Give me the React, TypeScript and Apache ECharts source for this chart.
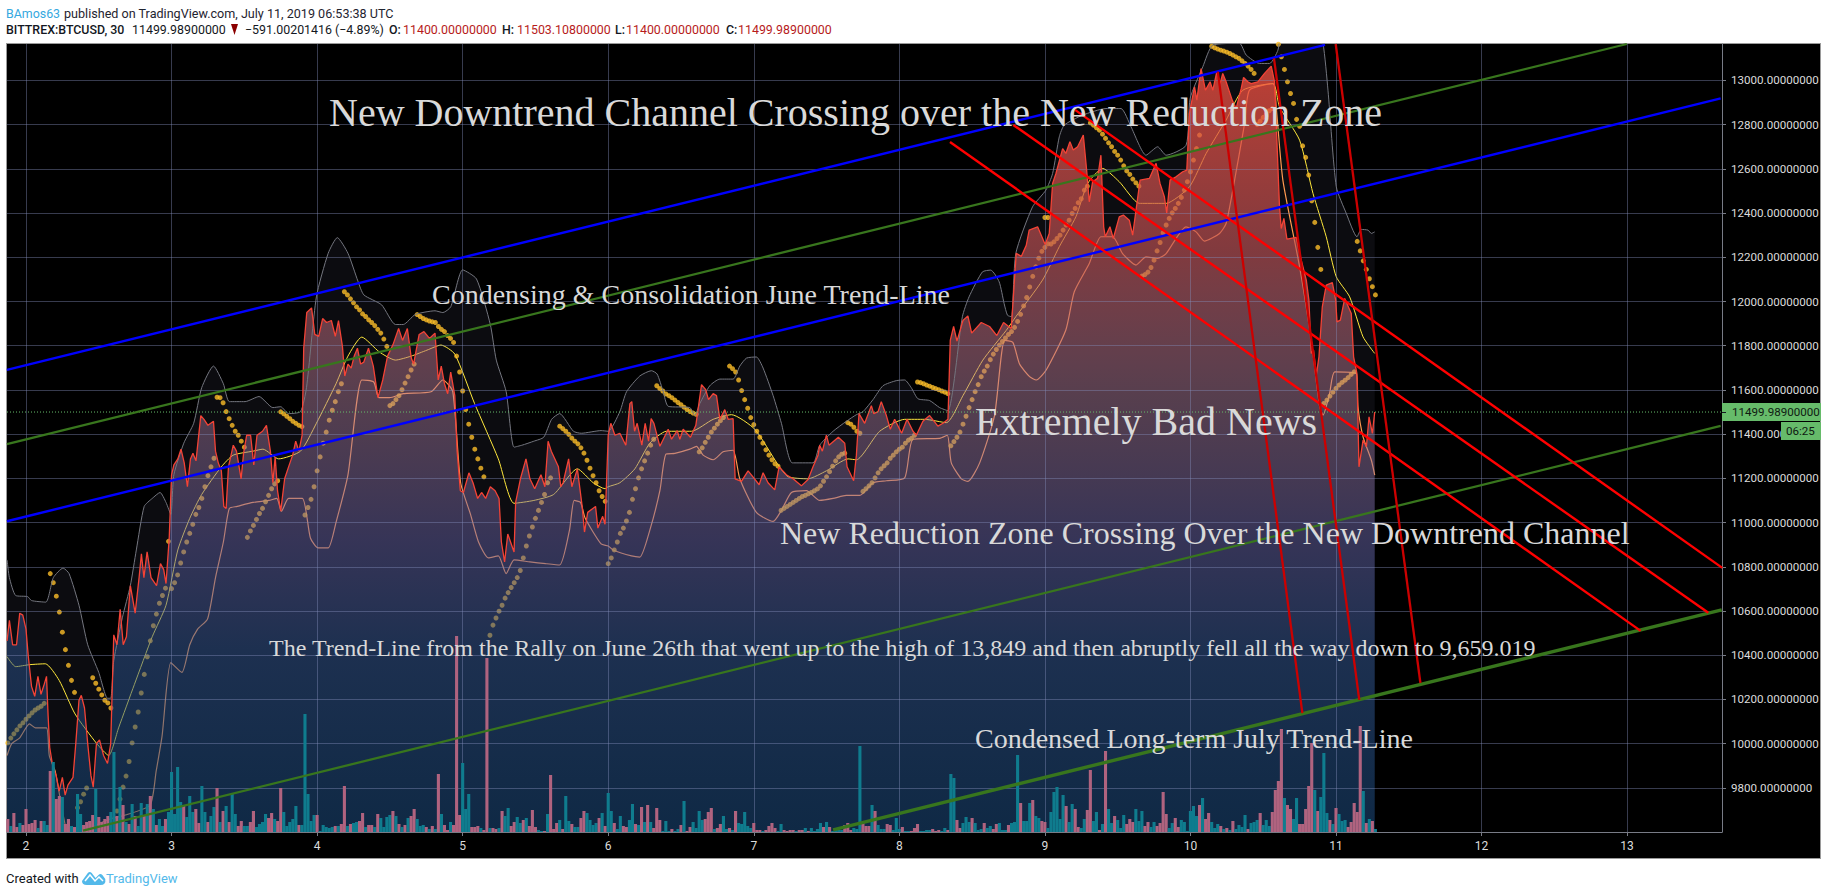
import React, { useEffect, useRef } from "react";
import * as echarts from "echarts";

const dayTicks = [2, 3, 4, 5, 6, 7, 8, 9, 10, 11, 12, 13];
const priceTicks = [9800, 10000, 10200, 10400, 10600, 10800, 11000, 11200, 11400, 11600, 11800, 12000, 12200, 12400, 12600, 12800, 13000];
const lastPrice = 11499.989;

const closePrices = [
[1.870,10465],[1.886,10558],[1.908,10447],[1.935,10447],[1.957,10590],[1.978,10581],[2.0,10518],[2.016,10393],[2.038,10259],[2.060,10214],[2.082,10304],[2.103,10223],[2.125,10268],[2.141,10304],[2.152,10125],[2.163,9982],[2.185,9892],[2.207,9856],[2.228,9785],[2.25,9847],[2.269,9767],[2.288,9812],[2.323,9847],[2.342,10000],[2.364,10196],[2.380,10218],[2.402,10161],[2.424,10000],[2.446,9856],[2.462,9803],[2.484,10000],[2.505,10017],[2.533,9946],[2.560,9910],[2.582,10000],[2.603,10492],[2.625,10447],[2.647,10608],[2.668,10447],[2.690,10483],[2.717,10715],[2.750,10590],[2.777,10751],[2.793,10858],[2.810,10751],[2.832,10867],[2.859,10751],[2.897,10715],[2.924,10814],[2.946,10787],[2.962,10724],[2.984,10930],[3.0,11216],[3.016,11261],[3.043,11288],[3.065,11332],[3.087,11270],[3.109,11162],[3.130,11288],[3.147,11314],[3.168,11279],[3.201,11484],[3.223,11467],[3.25,11440],[3.288,11458],[3.302,11323],[3.321,11270],[3.342,11234],[3.359,11073],[3.375,11064],[3.391,11252],[3.424,11350],[3.446,11323],[3.478,11198],[3.495,11314],[3.516,11395],[3.543,11395],[3.565,11261],[3.587,11395],[3.625,11413],[3.652,11440],[3.679,11323],[3.696,11180],[3.712,11297],[3.728,11144],[3.75,11051],[3.777,11198],[3.804,11252],[3.832,11305],[3.853,11368],[3.875,11323],[3.897,11395],[3.908,11789],[3.929,11950],[3.962,11971],[3.984,11851],[4.011,11842],[4.038,11923],[4.065,11905],[4.098,11914],[4.125,11842],[4.147,11914],[4.174,11797],[4.190,11663],[4.212,11717],[4.234,11699],[4.255,11753],[4.277,11789],[4.299,11717],[4.321,11726],[4.353,11789],[4.386,11708],[4.418,11565],[4.451,11645],[4.484,11753],[4.522,11806],[4.560,11878],[4.587,11824],[4.620,11878],[4.647,11744],[4.663,11717],[4.701,11851],[4.734,11864],[4.772,11833],[4.810,11857],[4.832,11645],[4.853,11708],[4.875,11628],[4.897,11583],[4.918,11681],[4.946,11574],[4.962,11323],[4.984,11144],[5.005,11136],[5.043,11225],[5.071,11180],[5.103,11109],[5.130,11136],[5.158,11109],[5.190,11162],[5.223,11144],[5.250,11109],[5.266,10912],[5.288,10822],[5.310,10948],[5.353,10867],[5.364,11091],[5.397,11198],[5.435,11288],[5.462,11198],[5.495,11153],[5.538,11216],[5.565,11162],[5.587,11368],[5.609,11323],[5.658,11252],[5.674,11162],[5.690,11180],[5.728,11288],[5.750,11162],[5.788,11243],[5.821,11073],[5.837,10957],[5.859,11046],[5.913,11073],[5.929,10975],[5.962,11028],[5.978,10992],
[6.0,11395],[6.018,11449],[6.046,11395],[6.080,11404],[6.121,11350],[6.149,11538],[6.162,11547],[6.181,11413],[6.199,11449],[6.231,11350],[6.254,11449],[6.277,11368],[6.295,11470],[6.314,11449],[6.355,11345],[6.412,11422],[6.435,11377],[6.474,11416],[6.492,11377],[6.515,11422],[6.565,11386],[6.602,11440],[6.641,11624],[6.670,11601],[6.689,11556],[6.721,11583],[6.744,11574],[6.767,11467],[6.801,11511],[6.824,11467],[6.858,11470],[6.872,11198],[6.915,11186],[6.961,11234],[7.0,11202],[7.037,11171],[7.064,11225],[7.098,11180],[7.144,11148],[7.174,11252],[7.224,11216],[7.270,11198],[7.327,11166],[7.373,11195],[7.407,11252],[7.442,11305],[7.453,11350],[7.471,11323],[7.499,11395],[7.517,11350],[7.581,11386],[7.625,11359],[7.641,11252],[7.686,11189],[7.705,11305],[7.723,11493],[7.762,11449],[7.808,11529],[7.824,11493],[7.854,11502],[7.876,11547],[7.911,11484],[7.938,11422],[7.968,11467],[8.016,11404],[8.053,11467],[8.094,11413],[8.117,11395],[8.162,11458],[8.208,11484],[8.265,11436],[8.300,11449],[8.334,11467],[8.350,11824],[8.373,11887],[8.396,11821],[8.437,11914],[8.471,11935],[8.497,11857],[8.563,11905],[8.620,11887],[8.670,11846],[8.716,11905],[8.769,11878],[8.803,12218],[8.838,12204],[8.872,12254],
[8.892,12323],[8.950,12338],[9.002,12258],[9.030,12308],[9.053,12534],[9.076,12579],[9.122,12692],[9.144,12670],[9.172,12723],[9.195,12685],[9.225,12700],[9.264,12753],[9.287,12594],[9.305,12451],[9.328,12542],[9.362,12557],[9.385,12662],[9.404,12338],[9.415,12293],[9.447,12338],[9.470,12285],[9.511,12383],[9.539,12391],[9.580,12368],[9.603,12300],[9.654,12549],[9.718,12557],[9.764,12625],[9.791,12534],[9.821,12474],[9.837,12401],[9.860,12549],[9.901,12564],[9.947,12587],[9.975,12594],[9.993,12851],[10.028,12971],[10.044,12911],[10.073,13054],[10.103,12956],[10.135,12994],[10.154,12956],[10.181,13039],[10.204,12986],[10.222,13032],[10.245,12994],[10.287,12911],[10.314,12873],[10.349,12964],[10.365,13014],[10.394,12994],[10.417,12986],[10.463,12994],[10.509,13032],[10.555,13065],[10.578,12994],[10.594,12730],[10.612,12428],[10.624,12330],[10.642,12376],[10.663,12282],[10.727,12290],[10.750,12217],[10.796,12097],[10.814,12006],[10.830,11765],[10.846,11780],[10.865,11667],[10.883,11750],[10.906,11976],[10.933,12074],[10.975,12085],[10.998,12006],[11.007,11908],[11.030,11916],[11.060,12014],[11.105,11946],[11.121,11750],[11.144,11674],[11.158,11252],[11.186,11373],[11.209,11343],[11.227,11478],[11.250,11403],[11.266,11500],
];

const upperBand = [
[1.870,10831],[1.886,10751],[1.929,10670],[2.011,10665],[2.038,10647],[2.136,10640],[2.188,10751],[2.255,10794],[2.296,10769],[2.364,10626],[2.424,10447],[2.500,10322],[2.560,10205],[2.582,10205],[2.603,10375],[2.663,10572],[2.717,10715],[2.758,10876],[2.812,11073],[2.867,11109],[2.921,11136],[2.962,11091],[2.995,11037],[3.016,11216],[3.084,11359],[3.152,11449],[3.207,11610],[3.288,11708],[3.356,11628],[3.397,11547],[3.505,11547],[3.601,11570],[3.696,11520],[3.750,11524],[3.804,11493],[3.886,11502],[3.927,11610],[3.995,12021],[4.076,12218],[4.139,12289],[4.212,12218],[4.280,12093],[4.321,12030],[4.443,11985],[4.538,11896],[4.592,11896],[4.674,11941],[4.810,11958],[4.864,11950],[4.918,11976],[5.0,12143],[5.095,12102],[5.190,11896],[5.231,11735],[5.299,11592],[5.353,11341],[5.408,11350],[5.489,11368],[5.557,11386],[5.611,11467],[5.666,11493],[5.761,11413],[5.815,11404],[5.951,11416],
[6.0,11413],[6.080,11502],[6.126,11592],[6.217,11663],[6.297,11687],[6.336,11672],[6.378,11592],[6.412,11526],[6.561,11520],[6.595,11484],[6.629,11538],[6.698,11619],[6.767,11649],[6.858,11649],[6.904,11708],[6.950,11744],[7.018,11749],[7.064,11699],[7.133,11574],[7.190,11449],[7.265,11270],[7.407,11270],[7.453,11350],[7.545,11413],[7.636,11458],[7.705,11488],[7.751,11502],[7.819,11556],[7.888,11619],[7.979,11642],[8.037,11645],[8.082,11610],[8.128,11560],[8.208,11552],[8.277,11520],[8.334,11506],
[8.433,11931],[8.479,12021],[8.571,12134],[8.628,12142],[8.686,12089],[8.720,11991],[8.743,11938],[8.771,11931],[8.800,12217],[8.915,12428],[9.007,12504],[9.053,12579],[9.099,12745],[9.133,12798],[9.259,12843],[9.420,12873],[9.523,12873],[9.592,12790],[9.695,12662],[9.775,12700],[9.833,12662],[9.970,12707],[9.998,12919],[10.085,13062],[10.154,13160],[10.337,13168],[10.383,13115],[10.475,13077],[10.544,13077],[10.601,13137],[10.635,13243],[10.865,13243],[10.911,13167],[10.945,12956],[11.002,12519],[11.071,12398],[11.144,12293],[11.174,12326],[11.220,12323],[11.243,12308],[11.266,12315],
];

const lowerBand = [
[1.870,9946],[1.902,10000],[1.957,10026],[2.024,10089],[2.065,10071],[2.141,10071],[2.160,9946],[2.201,9874],[2.255,9678],[2.296,9588],[2.418,9606],[2.486,9633],[2.582,9660],[2.690,9678],[2.853,9722],[2.894,9874],[2.935,10035],[2.995,10366],[3.071,10322],[3.125,10447],[3.179,10518],[3.247,10563],[3.302,10751],[3.356,10912],[3.397,11064],[3.451,11073],[3.560,11091],[3.668,11100],[3.723,11109],[3.755,11051],[3.804,11109],[3.899,11109],[3.954,10930],[4.008,10885],[4.076,10885],[4.130,11001],[4.212,11216],[4.307,11645],[4.389,11636],[4.424,11565],[4.497,11565],[4.592,11583],[4.783,11592],[4.864,11645],[4.932,11592],[4.986,11180],[5.054,11037],[5.109,10912],[5.177,10840],[5.245,10849],[5.299,10769],[5.353,10831],[5.462,10822],[5.571,10814],[5.666,10808],[5.734,10966],[5.766,11100],[5.810,11091],[5.842,11019],[5.951,10903],
[6.0,10894],[6.034,10876],[6.160,10849],[6.217,10844],[6.286,10966],[6.355,11144],[6.396,11309],[6.458,11313],[6.561,11332],[6.606,11345],[6.652,11305],[6.721,11284],[6.789,11320],[6.858,11327],[6.904,11198],[7.018,11046],[7.133,11005],[7.190,11055],[7.259,11136],[7.362,11144],[7.453,11100],[7.545,11109],[7.636,11123],[7.728,11123],[7.819,11180],[7.911,11189],[8.037,11202],[8.094,11377],[8.277,11381],[8.330,11395],[8.357,11270],[8.426,11198],[8.471,11186],[8.552,11270],[8.654,11484],[8.723,11824],[8.780,11815],[8.826,11717],[8.895,11660],[8.941,11645],[9.009,11690],
[9.144,11871],[9.202,12044],[9.305,12172],[9.385,12293],[9.466,12293],[9.534,12217],[9.626,12165],[9.695,12202],[9.775,12195],[9.833,12217],[9.970,12338],[10.039,12315],[10.096,12273],[10.200,12308],[10.245,12353],[10.291,12504],[10.372,12805],[10.406,12956],[10.567,12986],[10.589,12881],[10.635,12549],[10.750,12157],[10.830,11825],[10.888,11524],[10.911,11486],[10.956,11584],[10.991,11682],[11.140,11674],[11.151,11524],[11.186,11388],[11.243,11282],[11.266,11215],
];

const basisLine = [
[1.870,10393],[1.929,10348],[2.024,10357],[2.133,10361],[2.228,10286],[2.337,10134],[2.486,10000],[2.568,9946],[2.636,10071],[2.745,10268],[2.867,10483],[2.962,10626],[3.043,10876],[3.125,11019],[3.207,11127],[3.342,11252],[3.424,11305],[3.560,11323],[3.628,11332],[3.736,11288],[3.886,11323],[3.995,11449],[4.130,11628],[4.212,11753],[4.307,11839],[4.429,11771],[4.538,11735],[4.647,11753],[4.755,11780],[4.851,11803],[4.946,11762],[5.082,11538],[5.245,11288],[5.353,11087],[5.489,11100],[5.625,11127],[5.788,11243],[5.897,11180],[5.978,11153],
[6.0,11162],[6.080,11180],[6.183,11243],[6.286,11359],[6.400,11413],[6.572,11413],[6.721,11467],[6.847,11488],[7.007,11422],[7.167,11261],[7.236,11207],[7.373,11198],[7.499,11234],[7.648,11288],[7.705,11284],[7.865,11413],[8.037,11467],[8.174,11467],[8.323,11452],[8.437,11574],[8.574,11735],[8.734,11869],[8.800,11931],[8.984,12097],[9.099,12248],[9.213,12383],[9.294,12534],[9.397,12602],[9.511,12542],[9.649,12444],[9.764,12444],[9.833,12444],[9.993,12519],[10.108,12670],[10.245,12821],[10.360,12956],[10.567,12986],[10.612,12881],[10.750,12730],[10.842,12489],[10.933,12293],[11.002,12112],[11.094,12021],[11.186,11840],[11.266,11765],
];

const parabolicRuns: [number, number[]][] = [
[0,[10003,10025,10044,10062,10080,10094,10110,10125,10139,10152,10161,10169,10182]],
[14,[10769,10728,10667,10595,10504,10425,10354,10286,10232]],
[23,[9710,9737,9771,9799]],
[28,[10298,10273,10246,10220,10196,10184,10161]],
[36,[9695,9749,9803,9853,9919,10003,10075,10143,10229,10313,10393,10465,10533,10586,10635,10670,10703,10915,10701,10728,10763,10817,10867,10912,10951,10992,11037,11068,11109,11162,11212,11252,11291]],
[69,[11567,11565,11542,11502,11470,11440,11413,11395,11368,11341]],
[79,[10933,10962,10987,11014,11041,11064,11094,11123,11153,11175,11189]],
[90,[11501,11492,11481,11470,11458,11449,11440,11434]],
[98,[11034,11068,11105,11162,11234,11297,11359,11409,11463,11508,11547,11592,11628]],
[111,[12044,12030,12012,11994,11976,11962,11944,11932,11917,11905,11891,11874,11857,11830,11797]],
[126,[11529,11538,11556,11574,11601,11631,11660,11690,11717]],
[135,[11941,11932,11923,11917,11912,11908,11905,11887,11874,11864,11846,11833,11815,11753,11681,11595,11511,11445,11386,11332,11288,11246,11207]],
[159,[10490,10536,10568,10599,10626,10658,10683,10706,10728,10751,10783,10840,10894,10939,10980,11019,11055,11091,11127,11180,11202]],
[182,[11436,11425,11413,11399,11382,11368,11356,11338,11314,11282,11246,11212,11180,11144,11118,11096]],
[198,[10814,10840,10876,10912,10951,10975,11007,11046,11105,11153,11202,11243,11279,11314,11350,11377]],
[214,[11619,11606,11595,11582,11574,11565,11554,11543,11533,11522,11511,11502,11495,11490]],
[228,[11320,11338,11363,11386,11409,11427,11445,11461,11475]],
[238,[11708,11696,11681,11645,11597,11556,11517,11475,11443,11413,11386,11359,11329,11305,11284,11266,11255]],
[255,[11055,11064,11073,11082,11091,11100,11109,11118,11123,11130,11136,11144,11152,11166,11187,11207,11230,11255,11279,11297,11309,11314]],
[277,[11452,11445,11431,11413,11404]],
[282,[11141,11153,11166,11180,11202,11225,11243,11257,11270,11291,11305,11320,11332,11341,11359,11373,11381,11395]],
[300,[11636,11633,11628,11622,11617,11611,11606,11601,11595,11590,11583]],
[311,[11347,11366,11386,11409,11445,11481,11520,11556,11592,11624,11660,11685,11708,11737,11762,11783,11803,11819,11835,11851,11864,11883,11910,11942,11980,12018,12066,12114,12157,12196,12227,12245,12261,12260,12270,12285,12300,12323,12346,12368,12398,12421,12447,12465,12504,12522]],
[342,[12380,12380]],
[357,[12808,12798,12786,12775,12757,12738,12718,12700,12679,12662,12640,12614,12591,12575,12554,12537,12522]],
[374,[12115,12122,12133,12154,12187,12229,12267,12311,12346,12376,12401,12421,12444,12471,12504,12542,12587,12640,12692,12753]],
[397,[13155,13148,13142,13137,13133,13128,13122,13115,13107,13100,13089,13077,13065,13050,13032]],
[412,[12802,12816,12833,12848,12863,12873]],
[419,[13164,13107,13050,12994,12941,12896,12824,12793,12704,12652,12572,12456,12358,12245,12145]],
[434,[11539,11554,11572,11590,11607,11622,11634,11644,11656,11670,11682]],
[445,[12272,12229,12184,12145,12103,12067,12030]],
];

// positive: rising half-hour (teal), negative: falling half-hour (pink)
const volumes = [
-13,6,-19,-5,9,-7,-23,-8,-9,-12,4,-11,11,7,-61,70,-33,-36,35,-8,-13,6,-5,38,18,-7,-10,-11,-17,43,-15,-10,-13,-16,20,80,-16,45,-27,10,-8,28,-16,6,29,-16,28,-36,23,-7,13,6,-13,20,60,18,65,30,-27,15,36,20,-23,-9,46,20,-10,16,25,-44,10,-21,26,-10,39,18,-6,-11,6,6,-10,-21,5,8,10,18,-14,-19,13,-11,-44,20,6,10,13,26,-7,7,118,38,11,17,-17,1,7,5,4,5,-6,6,-8,-46,6,-8,9,10,-11,-19,5,-7,-7,5,-18,14,5,15,17,-21,16,-8,5,-7,14,-16,-23,13,6,7,-5,3,-6,3,-58,18,-7,-2,10,-7,-196,-17,
69,23,38,-5,-5,-6,4,-2,-174,4,-4,-3,4,-21,16,24,-6,-10,15,9,-12,14,-6,-22,-5,2,1,-1,18,-57,-3,-9,12,-3,36,11,-8,5,5,-14,-21,19,12,7,9,-14,19,-6,39,21,-9,3,16,-6,-5,12,28,-8,7,-25,10,-27,10,-4,-24,-12,1,11,1,-3,1,3,-7,31,-1,-5,10,4,21,12,-13,-20,-24,3,-4,-8,16,3,-4,2,-21,9,8,20,6,4,-9,-2,-2,1,-2,-6,-9,-4,1,8,-2,-1,-2,-2,1,-2,-2,4,-1,4,1,3,9,-5,10,-5,1,3,2,2,-7,-9,-2,4,3,86,-9,-6,-6,27,-21,7,3,3,-8,-7,2,14,3,-5,1,1,-1,-4,-8,
1,1,2,2,-3,-1,-2,1,4,-2,58,54,-12,-4,9,15,10,-14,9,2,3,-9,4,6,-3,-8,9,2,2,-7,9,10,77,-29,11,11,29,-32,16,14,-11,-10,4,20,40,45,13,37,-26,10,28,-23,-5,4,13,-22,-62,11,20,-2,8,-81,23,9,-16,12,4,17,-8,-13,-10,23,11,21,-6,-10,5,10,-6,-9,-40,-18,4,9,-14,-5,12,10,1,21,26,16,-27,34,-13,-19,10,4,8,-6,3,-4,2,-11,3,7,5,17,-3,9,10,12,-19,7,12,6,-20,-42,-51,-103,34,-27,-23,13,34,-8,-8,-23,-46,-89,42,-21,35,79,19,-12,8,-24,18,11,12,-5,-10,-29,-20,-106,41,-9,13,-11,3,
];

const blueChannels = [
  [[1.869, 11691], [10.925, 13161]],
  [[1.869, 11006], [13.643, 12919]],
];
const greenChannels = [
  [[1.869, 11355], [12.998, 13165]],
  [[2.392, 9606], [13.643, 11437]],
];
const longTermTrend = [[7.545, 9610], [13.65, 10605]];
const reductionLines = [
  [[8.348, 12722], [13.093, 10510]],
  [[8.783, 12799], [13.558, 10592]],
  [[9.207, 12867], [13.654, 10795]],
];
const steepLines = [
  [[10.188, 13040], [10.769, 10138]],
  [[10.574, 13100], [11.16, 10198]],
  [[10.998, 13165], [11.58, 10274]],
];

const PLOT = { left: 7, right: 1722, top: 44, bottom: 832 };
const X_MIN = 1.8695;
const X_MAX = 13.652;
const barDay = (i: number) => 2 + (i - 6) / 48;

const serifFont = '"Liberation Serif", serif';
const uiFont = 'Roboto, sans-serif';
const TEXT = "#d9d9d9";

function note(text: string, x: number, y: number, fontSize: number) {
  return {
    type: "text", x, y, z: 50,
    style: { text, fontSize, fontFamily: serifFont, fill: TEXT, textVerticalAlign: "middle", verticalAlign: "middle" },
  };
}
function head(text: string, x: number, y: number, fill: string, fontWeight = "normal", fontSize = 12.4) {
  return {
    type: "text", x, y, z: 50,
    style: { text, fontSize, fontFamily: uiFont, fill, fontWeight, verticalAlign: "middle", textVerticalAlign: "middle" },
  };
}

function trendSeries(seg: number[][], color: string, width: number) {
  return {
    type: "line", data: seg, z: 8, showSymbol: false, symbol: "none", silent: true,
    lineStyle: { color, width }, itemStyle: { color },
  };
}

export default function App() {
  const ref = useRef<HTMLDivElement>(null);
  useEffect(() => {
    document.body.style.margin = "0";
    document.body.style.background = "#fff";
    echarts.graphic.registerShape(
      "tvLogo",
      echarts.graphic.extendPath(
        "M0 10 L6 2 Q8 0 10 2 L14 7 L17 4 Q19 2 21 4 L24 8 Q25 14 19 14 L5 14 Q0 14 0 10 Z",
        {}
      )
    );
    const chart = echarts.init(ref.current!, undefined, { renderer: "svg" });
    const sarData: number[][] = [];
    parabolicRuns.forEach(([start, vals]) => vals.forEach((v, k) => sarData.push([barDay(start + k), v])));
    const gridLine = { show: true, lineStyle: { color: "rgba(130,140,185,0.42)", width: 1 } };
    const axisText = { color: "#dcdcdc", fontSize: 11.6, fontFamily: uiFont };
    chart.setOption({
      animation: false,
      backgroundColor: "transparent",
      grid: { left: PLOT.left, top: PLOT.top, width: PLOT.right - PLOT.left, height: PLOT.bottom - PLOT.top, containLabel: false },
      xAxis: {
        type: "value", min: X_MIN, max: X_MAX, z: 3.5,
        axisLine: { show: true, lineStyle: { color: "#787b86" } },
        axisTick: { show: true, length: 4, lineStyle: { color: "#787b86" }, customValues: dayTicks },
        axisLabel: { ...axisText, fontSize: 12, customValues: dayTicks, formatter: (v: number) => String(v), margin: 8 },
        splitLine: gridLine,
      },
      yAxis: [
        {
          type: "value", position: "right", min: 9600, max: 13165, z: 3.5,
          axisLine: { show: true, lineStyle: { color: "#787b86" } },
          axisTick: { show: true, length: 4, lineStyle: { color: "#787b86" }, customValues: priceTicks },
          axisLabel: { ...axisText, customValues: priceTicks, formatter: (v: number) => v.toFixed(8), margin: 9 },
          splitLine: gridLine,
        },
        { type: "value", show: false, min: 0, max: 788, splitLine: { show: false } },
      ],
      series: [
        {
          name: "band fill", type: "line", data: upperBand, z: 1, showSymbol: false, symbol: "none", smooth: 0.2,
          lineStyle: { width: 0 }, areaStyle: { color: "#0c0c10", opacity: 1 },
        },
        { name: "lower band", type: "line", data: lowerBand, z: 2, showSymbol: false, symbol: "none", smooth: 0.2, lineStyle: { color: "#ff9a50", width: 1.2 } },
        { name: "basis", type: "line", data: basisLine, z: 2, showSymbol: false, symbol: "none", smooth: 0.2, lineStyle: { color: "#ffe83c", width: 1 } },
        { name: "parabolic", type: "scatter", data: sarData, z: 2, symbolSize: 5, itemStyle: { color: "#fbbd28" } },
        {
          name: "price area", type: "line", data: closePrices, z: 3, showSymbol: false, symbol: "none",
          lineStyle: { width: 0 },
          areaStyle: {
            opacity: 1,
            color: new echarts.graphic.LinearGradient(0, 0, 0, 1, [
              { offset: 0, color: "rgba(240,78,62,0.78)" },
              { offset: 0.24, color: "rgba(190,82,86,0.66)" },
              { offset: 0.436, color: "rgba(176,124,154,0.45)" },
              { offset: 0.619, color: "rgba(100,96,164,0.48)" },
              { offset: 0.762, color: "rgba(46,84,144,0.5)" },
              { offset: 1, color: "rgba(18,70,122,0.5)" },
            ]),
          },
        },
        { name: "upper band", type: "line", data: upperBand, z: 4, showSymbol: false, symbol: "none", smooth: 0.2, lineStyle: { color: "#74767f", width: 1 } },
        { name: "price", type: "line", data: closePrices, z: 4, showSymbol: false, symbol: "none", lineStyle: { color: "#f44336", width: 1.3 } },
        {
          name: "last price", type: "line", data: [[X_MIN, lastPrice], [X_MAX, lastPrice]], z: 4, showSymbol: false, symbol: "none",
          lineStyle: { color: "#66bb6a", width: 1, type: [1, 2] },
        },
        {
          name: "volume", type: "bar", yAxisIndex: 1, z: 5, barWidth: 3.1,
          data: volumes.map((v, i) => ({
            value: [barDay(i), Math.abs(v)],
            itemStyle: { color: v >= 0 ? "#0f7c8e" : "#b0637f" },
          })),
        },
        ...blueChannels.map((s) => trendSeries(s, "#0000ff", 2.4)),
        ...greenChannels.map((s) => trendSeries(s, "#38761d", 2.3)),
        trendSeries(longTermTrend, "#38761d", 3.4),
        ...reductionLines.map((s) => trendSeries(s, "#ff0000", 2.4)),
        ...steepLines.map((s) => trendSeries(s, "#cc0000", 2.3)),
      ],
      graphic: {
        elements: [
          // header
          head("BAmos63", 6, 13, "#35a8e0"),
          head("published on TradingView.com, July 11, 2019 06:53:38 UTC", 64, 13, "#1f2430", "normal", 12.6),
          head("BITTREX:BTCUSD, 30", 6, 29.5, "#131722", "500"),
          head("11499.98900000", 132, 29.5, "#131722"),
          { type: "polygon", z: 50, shape: { points: [[231, 24], [238, 24], [234.5, 35]] }, style: { fill: "#8b0000" } },
          head("\u2212591.00201416 (\u22124.89%)", 245, 29.5, "#131722"),
          head("O:", 389, 29.5, "#131722", "500"),
          head("11400.00000000", 403, 29.5, "#b71c1c"),
          head("H:", 502, 29.5, "#131722", "500"),
          head("11503.10800000", 517, 29.5, "#b71c1c"),
          head("L:", 615, 29.5, "#131722", "500"),
          head("11400.00000000", 626, 29.5, "#b71c1c"),
          head("C:", 726, 29.5, "#131722", "500"),
          head("11499.98900000", 738, 29.5, "#b71c1c"),
          // annotations
          note("New Downtrend Channel Crossing over the New Reduction Zone", 329, 112, 40),
          note("Condensing & Consolidation June Trend-Line", 432, 294, 28),
          note("Extremely Bad News", 975, 421, 40),
          note("New Reduction Zone Crossing Over the New Downtrend Channel", 780, 533, 32),
          note("The Trend-Line from the Rally on June 26th that went up to the high of 13,849 and then abruptly fell all the way down to 9,659.019", 269, 648, 24),
          note("Condensed Long-term July Trend-Line", 975, 738, 28),
          // last price tag
          { type: "rect", z: 50, shape: { x: 1722, y: 403, width: 99, height: 18 }, style: { fill: "#66bb6a" } },
          { type: "rect", z: 51, shape: { x: 1722, y: 412, width: 4, height: 1 }, style: { fill: "#131722" } },
          { type: "text", z: 52, x: 1732, y: 412, style: { text: "11499.98900000", fontSize: 11.6, fontFamily: uiFont, fill: "#0f1a12", verticalAlign: "middle", textVerticalAlign: "middle" } },
          { type: "rect", z: 50, shape: { x: 1781, y: 422, width: 40, height: 18 }, style: { fill: "#66bb6a" } },
          { type: "text", z: 52, x: 1786, y: 431, style: { text: "06:25", fontSize: 11.6, fontFamily: uiFont, fill: "#0f1a12", verticalAlign: "middle", textVerticalAlign: "middle" } },
          // footer
          { type: "text", z: 50, x: 6, y: 878, style: { text: "Created with", fontSize: 13, fontFamily: uiFont, fill: "#131722", verticalAlign: "middle", textVerticalAlign: "middle" } },
          { type: "tvLogo", z: 50, x: 82, y: 871, scaleX: 0.97, scaleY: 1, style: { fill: "#53b9ea" } },
          { type: "polyline", z: 51, shape: { points: [[85, 881], [90, 875], [95, 881], [99, 877], [103, 881]] }, style: { stroke: "#fff", fill: "none", lineWidth: 1.5 } },
          { type: "text", z: 50, x: 106, y: 878, style: { text: "TradingView", fontSize: 13, fontFamily: uiFont, fill: "#53b9ea", verticalAlign: "middle", textVerticalAlign: "middle" } },
        ],
      },
    });
    return () => chart.dispose();
  }, []);
  return (
    <div style={{ position: "relative", width: 1828, height: 896, background: "#fff", overflow: "hidden" }}>
      <div style={{ position: "absolute", left: 6, top: 43, width: 1815, height: 816, background: "#000", border: "1px solid #9a9a9a", boxSizing: "border-box" }} />
      <div ref={ref} style={{ position: "absolute", left: 0, top: 0, width: 1828, height: 896 }} />
    </div>
  );
}
